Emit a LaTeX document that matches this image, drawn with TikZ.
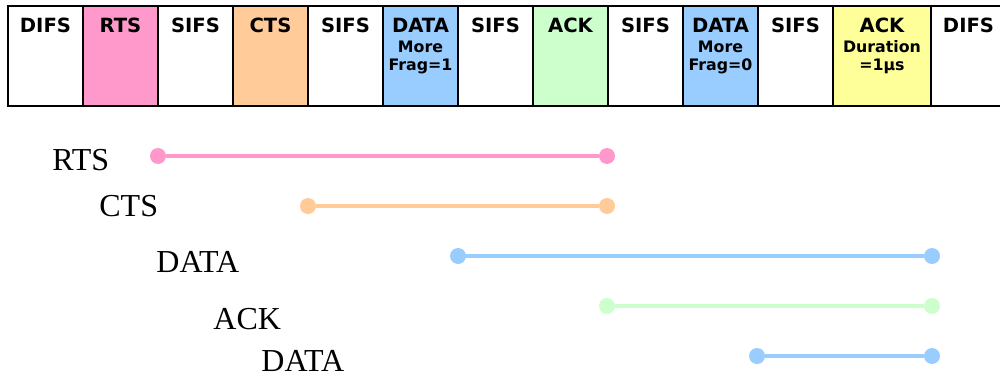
\documentclass[tikz,border=0pt]{standalone}
\usepackage{fontspec}
\setmainfont{Liberation Serif}
\setsansfont{DejaVu Sans}
\usetikzlibrary{positioning}

\definecolor{rtscol}{HTML}{FF99CC}
\definecolor{ctscol}{HTML}{FFCC99}
\definecolor{datacol}{HTML}{99CCFF}
\definecolor{ackcol}{HTML}{CCFFCC}
\definecolor{durcol}{HTML}{FFFF99}

\newcommand{\fieldname}[1]{{\fontsize{9.8}{9}\selectfont #1}}

\tikzset{
  frame/.style={draw, rectangle, line width=1pt, minimum width=37.5pt, minimum height=50pt, inner sep=0pt, outer sep=0pt},
  boxtxt/.style={anchor=north, yshift=-6pt, inner sep=0pt, align=center, font=\sffamily\bfseries\fontsize{7.9}{7.5}\selectfont},
  dot/.style={circle, inner sep=0pt, minimum size=8pt},
  link/.style={line width=2pt},
  lbl/.style={anchor=base west, inner sep=0pt, font=\fontsize{16}{18}\selectfont}
}

\begin{document}
\begin{tikzpicture}[x=0.5pt, y=-0.5pt]
  \useasboundingbox (0,0) rectangle (1000,375);

  \node[frame, anchor=north west, label={[boxtxt]north:\fieldname{DIFS}}] (1) at (8,6) {};
  \node[frame, fill=rtscol, label={[boxtxt]north:\fieldname{RTS}}] (2) [right=0pt of 1] {};
  \node[frame, label={[boxtxt]north:\fieldname{SIFS}}] (3) [right=0pt of 2] {};
  \node[frame, fill=ctscol, label={[boxtxt]north:\fieldname{CTS}}] (4) [right=0pt of 3] {};
  \node[frame, label={[boxtxt]north:\fieldname{SIFS}}] (5) [right=0pt of 4] {};
  \node[frame, fill=datacol, label={[boxtxt]north:{\fieldname{DATA}\\[2.5pt]More\\[1.5pt]Frag=1}}] (6) [right=0pt of 5] {};
  \node[frame, label={[boxtxt]north:\fieldname{SIFS}}] (7) [right=0pt of 6] {};
  \node[frame, fill=ackcol, label={[boxtxt]north:\fieldname{ACK}}] (8) [right=0pt of 7] {};
  \node[frame, label={[boxtxt]north:\fieldname{SIFS}}] (9) [right=0pt of 8] {};
  \node[frame, fill=datacol, label={[boxtxt]north:{\fieldname{DATA}\\[2.5pt]More\\[1.5pt]Frag=0}}] (10) [right=0pt of 9] {};
  \node[frame, label={[boxtxt]north:\fieldname{SIFS}}] (11) [right=0pt of 10] {};
  \node[frame, fill=durcol, minimum width=49pt, label={[boxtxt]north:{\fieldname{ACK}\\[2.5pt]Duration\\[1.5pt]=1μs}}] (12) [right=0pt of 11] {};
  \node[frame, label={[boxtxt]north:\fieldname{DIFS}}] (13) [right=0pt of 12] {};

  % timelines
  \node[lbl] (21) at (52,170) {RTS};
  \node[lbl] (22) at (99,216) {CTS};
  \node[lbl] (23) at (156,272) {DATA};
  \node[lbl] (24) at (213,329) {ACK};
  \node[lbl] (25) at (261,371) {DATA};

  \node[dot, fill=rtscol] (31) at (158,156) {};
  \node[dot, fill=rtscol] (32) at (607,156) {};
  \node[dot, fill=ctscol] (41) at (308,206) {};
  \node[dot, fill=ctscol] (42) at (607,206) {};
  \node[dot, fill=datacol] (51) at (458,256) {};
  \node[dot, fill=datacol] (52) at (932,256) {};
  \node[dot, fill=ackcol] (61) at (607,306) {};
  \node[dot, fill=ackcol] (62) at (932,306) {};
  \node[dot, fill=datacol] (71) at (757,356) {};
  \node[dot, fill=datacol] (72) at (932,356) {};

  \draw[link, rtscol] (31) -- (32);
  \draw[link, ctscol] (41) -- (42);
  \draw[link, datacol] (51) -- (52);
  \draw[link, ackcol] (61) -- (62);
  \draw[link, datacol] (71) -- (72);
\end{tikzpicture}
\end{document}
